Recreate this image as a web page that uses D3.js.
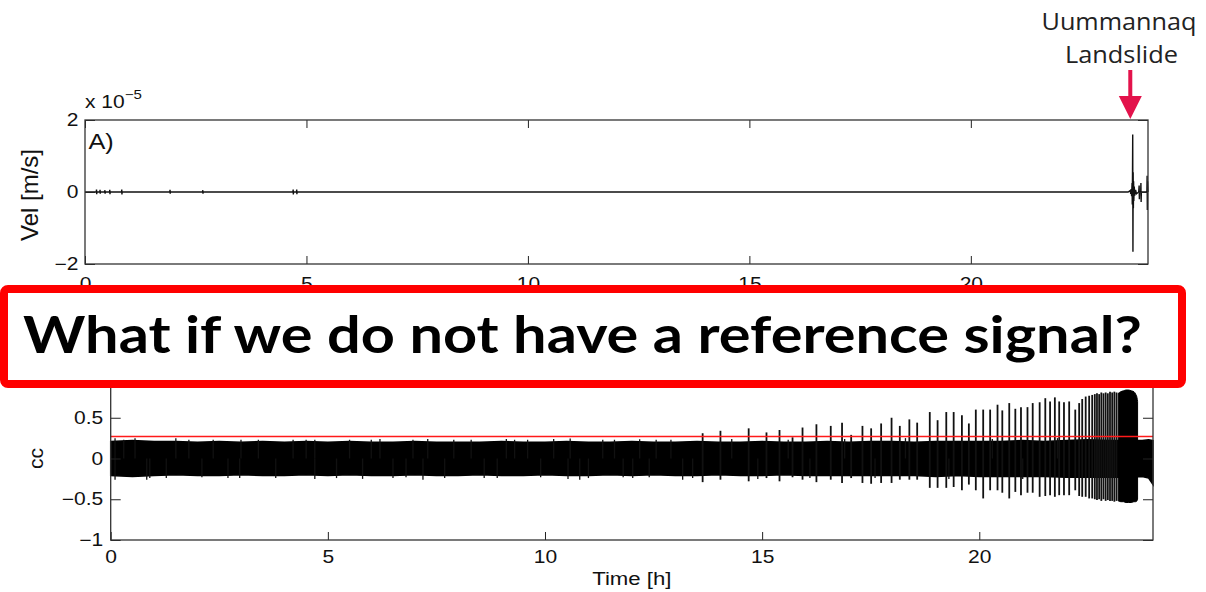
<!DOCTYPE html>
<html>
<head>
<meta charset="utf-8">
<script src="https://cdn.jsdelivr.net/npm/d3@7"></script>
<style>
  body { margin: 0; background: #fff; }
  svg { display: block; }
</style>
</head>
<body>
<svg id="chart" width="1206" height="592"></svg>
<script>
// ---------- Panel A: velocity seismogram (units of 1e-5 m/s) ----------
const velTime = [
  0,
  0.255, 0.26, 0.264, 0.268,
  0.335, 0.34, 0.344, 0.348,
  0.445, 0.45, 0.454, 0.458,
  0.555, 0.56, 0.564, 0.568,
  0.825, 0.83, 0.834, 0.838,
  1.915, 1.92, 1.924, 1.928,
  2.655, 2.66, 2.664, 2.668,
  4.695, 4.70, 4.704, 4.708,
  4.775, 4.78, 4.784, 4.788,
  23.55, 23.60, 23.61, 23.62, 23.63, 23.64, 23.645, 23.65, 23.655, 23.66,
  23.665, 23.67, 23.675, 23.68, 23.69, 23.70, 23.72, 23.74,
  23.79, 23.80, 23.805, 23.81,
  23.835, 23.84, 23.845, 23.85,
  23.90, 23.975, 23.98, 23.985, 23.99, 24
];
const velValue = [
  0,
  0, 0.07, -0.06, 0,
  0, 0.06, -0.05, 0,
  0, 0.05, -0.05, 0,
  0, 0.06, -0.06, 0,
  0, 0.07, -0.07, 0,
  0, 0.06, -0.05, 0,
  0, 0.05, -0.05, 0,
  0, 0.07, -0.07, 0,
  0, 0.07, -0.06, 0,
  0, 0.04, -0.05, 0.08, -0.12, 0.25, -0.35, 0.5, 1.6, -1.66,
  0.55, -0.45, 0.3, -0.25, 0.15, -0.1, 0.06, -0.05,
  0, 0.18, -0.2, 0,
  0, 0.25, -0.28, 0,
  0, 0, 0.45, -0.5, 0.3, 0
];
const timeTicks = [0, 5, 10, 15, 20];
const velTicks = [-2, 0, 2];
const velTickLabels = ["\u22122", "0", "2"];

// ---------- Panel B: cross-correlation coefficient ----------
// background noise envelope
const bandTime = [
  0, 0.5, 1, 1.5, 2, 2.5, 3, 3.5, 4, 4.5, 5, 5.5, 6, 6.5, 7, 7.5, 8, 8.5, 9, 9.5,
  10, 10.5, 11, 11.5, 12, 12.5, 13, 13.5, 14, 14.5, 15, 15.5, 16, 16.5, 17, 17.5,
  18, 18.5, 19, 19.5, 20, 20.5, 21, 21.5, 22, 22.5, 23, 23.5, 23.75, 23.9, 24
];
const bandUpper = [
  0.21, 0.22, 0.21, 0.21, 0.20, 0.21, 0.20, 0.21, 0.20, 0.21, 0.20, 0.21, 0.20, 0.20, 0.21, 0.20, 0.20, 0.20, 0.21, 0.20,
  0.20, 0.21, 0.20, 0.20, 0.21, 0.20, 0.20, 0.21, 0.20, 0.20, 0.21, 0.20, 0.20, 0.21, 0.20, 0.21,
  0.21, 0.20, 0.21, 0.21, 0.21, 0.21, 0.22, 0.21, 0.22, 0.23, 0.22, 0.22, 0.22, 0.23, 0.22
];
const bandLower = [
  -0.21, -0.22, -0.21, -0.20, -0.21, -0.21, -0.20, -0.21, -0.21, -0.20, -0.21, -0.20, -0.21, -0.21, -0.20, -0.21, -0.21, -0.20, -0.21, -0.21,
  -0.20, -0.21, -0.21, -0.20, -0.21, -0.20, -0.21, -0.21, -0.20, -0.21, -0.21, -0.20, -0.21, -0.21, -0.21, -0.21,
  -0.21, -0.21, -0.22, -0.21, -0.22, -0.22, -0.22, -0.22, -0.23, -0.23, -0.23, -0.23, -0.22, -0.24, -0.32
];
// small excursions poking out of the noise band
const bumpTime = [
  0.10, 0.10, 0.56, 0.83, 1.28, 1.50, 2.36, 2.97, 3.00, 4.20,
  4.70, 4.70, 5.50, 5.80, 6.20, 6.50, 6.96, 7.19, 7.30, 7.69,
  9.11, 10.53, 10.58, 10.80, 11.33, 12.02, 12.18, 12.56, 13.17,
  8.30, 8.90, 9.60, 11.80,
  0.30, 0.90, 1.80, 2.10, 2.70, 3.40, 3.80, 4.50, 5.20, 6.00,
  6.80, 7.90, 8.60, 9.30, 9.90, 10.20, 11.00, 11.60, 12.40, 12.90,
  13.40, 14.30, 14.90, 15.60, 16.10, 16.90, 17.60, 18.30, 19.30, 20.30,
  21.00, 21.80
];
const bumpValue = [
  0.25, -0.26, 0.25, -0.26, -0.24, 0.25, 0.23, -0.24, 0.23, 0.23,
  0.23, -0.25, 0.23, -0.25, 0.24, -0.24, 0.23, -0.26, 0.24, -0.24,
  0.24, -0.25, 0.245, -0.26, 0.23, -0.24, 0.235, 0.23, -0.26,
  0.23, -0.24, 0.23, -0.23,
  0.23, -0.24, 0.23, -0.23, -0.24, 0.23, -0.24, 0.23, -0.24, 0.23,
  -0.23, 0.23, -0.24, 0.23, -0.23, 0.24, -0.24, 0.23, -0.23, 0.23,
  -0.24, 0.24, -0.25, 0.23, -0.24, 0.24, -0.24, 0.25, -0.25, 0.24,
  -0.25, 0.25
];
// precursory repeating events
const spikeTime = [
  13.63, 14.04, 14.69, 15.10, 15.40, 15.70, 15.93, 16.25, 16.58, 16.84,
  17.05, 17.31, 17.51, 17.74, 17.98, 18.17, 18.39, 18.57, 18.86, 19.04,
  19.24, 19.41, 19.60, 19.76, 19.92, 20.09, 20.25, 20.42, 20.53, 20.69,
  20.83, 20.96, 21.11, 21.23, 21.39, 21.52, 21.63, 21.74, 21.84, 21.95,
  22.07, 22.21, 22.30, 22.37, 22.45, 22.53, 22.60,
  22.66, 22.71, 22.76, 22.81, 22.86, 22.91, 22.96, 23.01, 23.06, 23.11, 23.16
];
const spikePeak = [
  0.31, 0.34, 0.37, 0.32, 0.35, 0.26, 0.38, 0.42, 0.40, 0.44,
  0.29, 0.40, 0.37, 0.43, 0.50, 0.40, 0.48, 0.44, 0.57, 0.47,
  0.57, 0.57, 0.53, 0.43, 0.60, 0.60, 0.60, 0.66, 0.59, 0.68,
  0.61, 0.63, 0.63, 0.68, 0.69, 0.74, 0.70, 0.75, 0.70, 0.69,
  0.70, 0.60, 0.68, 0.73, 0.76, 0.77, 0.78,
  0.79, 0.80, 0.79, 0.81, 0.80, 0.81, 0.80, 0.82, 0.81, 0.82, 0.81
];
const spikeTrough = [
  -0.29, -0.26, -0.28, -0.24, -0.28, -0.23, -0.26, -0.29, -0.26, -0.30,
  -0.24, -0.30, -0.31, -0.30, -0.30, -0.26, -0.26, -0.26, -0.36, -0.36,
  -0.36, -0.35, -0.39, -0.32, -0.39, -0.49, -0.39, -0.39, -0.42, -0.49,
  -0.41, -0.45, -0.42, -0.42, -0.47, -0.46, -0.45, -0.47, -0.45, -0.45,
  -0.45, -0.39, -0.46, -0.47, -0.47, -0.49, -0.49,
  -0.50, -0.51, -0.50, -0.52, -0.50, -0.52, -0.51, -0.52, -0.52, -0.53, -0.52
];
// continuous swarm just before the landslide (envelope)
const swarmTime = [23.20, 23.26, 23.32, 23.38, 23.44, 23.50, 23.56, 23.60, 23.63, 23.645];
const swarmTop = [0.80, 0.82, 0.83, 0.84, 0.84, 0.83, 0.82, 0.79, 0.75, 0.70];
const swarmBottom = [-0.52, -0.53, -0.53, -0.54, -0.54, -0.54, -0.53, -0.53, -0.52, -0.50];
const ccThreshold = 0.27;
const ccTicks = [-1, -0.5, 0, 0.5, 1];
const ccTickLabels = ["\u22121", "\u22120.5", "0", "0.5", "1"];

// ---------- drawing ----------
const svg = d3.select("#chart");
const AXIS_FONT = "'Liberation Sans', Arial, Helvetica, sans-serif";
const STRETCH = "scale(1.2,1)";

function frame(g, x, y, xTicks, yTicks, yLabels, xPad, yPad) {
  const [x0, x1] = x.range();
  const [y0, y1] = y.range();
  const fmtX = d => String(d);
  const fmtY = d => yLabels[yTicks.indexOf(d)];
  const axisStyle = sel => sel.attr("font-family", AXIS_FONT).attr("font-size", 17.5)
    .attr("color", "#222").call(s => s.select(".domain").remove());

  g.append("g").attr("transform", `translate(0,${y0})`)
    .call(d3.axisBottom(x).tickValues(xTicks).tickFormat(fmtX).tickSizeInner(-8).tickSizeOuter(0).tickPadding(xPad))
    .call(axisStyle)
    .call(s => s.selectAll("text").attr("transform", STRETCH).attr("fill", "#111"));
  g.append("g").attr("transform", `translate(0,${y1})`)
    .call(d3.axisTop(x).tickValues(xTicks).tickFormat("").tickSizeInner(-8).tickSizeOuter(0))
    .call(axisStyle);
  g.append("g").attr("transform", `translate(${x0},0)`)
    .call(d3.axisLeft(y).tickValues(yTicks).tickFormat(fmtY).tickSizeInner(-10).tickSizeOuter(0).tickPadding(yPad))
    .call(axisStyle)
    .call(s => s.selectAll("text").attr("transform", STRETCH).attr("fill", "#111"));
  g.append("g").attr("transform", `translate(${x1},0)`)
    .call(d3.axisRight(y).tickValues(yTicks).tickFormat("").tickSizeInner(-10).tickSizeOuter(0))
    .call(axisStyle);
  g.append("rect")
    .attr("x", x0).attr("y", y1).attr("width", x1 - x0).attr("height", y0 - y1)
    .attr("fill", "none").attr("stroke", "#333").attr("stroke-width", 1.3);
}

// Panel A
const xTop = d3.scaleLinear().domain([0, 24]).range([85, 1148]);
const yTop = d3.scaleLinear().domain([-2, 2]).range([264, 120]);
const gTop = svg.append("g");

gTop.append("path")
  .datum(velTime.map((t, i) => [t, velValue[i]]))
  .attr("d", d3.line().x(d => xTop(d[0])).y(d => yTop(d[1])))
  .attr("fill", "none").attr("stroke", "#111").attr("stroke-width", 1.4);

frame(gTop, xTop, yTop, timeTicks, velTicks, velTickLabels, 14, 5.5);

const mult = gTop.append("text")
  .attr("transform", "translate(85,108) " + STRETCH)
  .attr("font-family", AXIS_FONT).attr("font-size", 17.5).attr("fill", "#111");
mult.append("tspan").text("x 10");
mult.append("tspan").attr("dy", -9).attr("font-size", 12.5).text("\u22125");

gTop.append("text")
  .attr("transform", "translate(88.5,149) scale(1.15,1)")
  .attr("font-family", AXIS_FONT).attr("font-size", 22).attr("fill", "#111")
  .text("A)");

gTop.append("text")
  .attr("transform", `translate(38,${(120 + 264) / 2 + 3}) rotate(-90)`)
  .attr("text-anchor", "middle")
  .attr("font-family", AXIS_FONT).attr("font-size", 24).attr("fill", "#111")
  .text("Vel [m/s]");

// Panel B
const xBot = d3.scaleLinear().domain([0, 24]).range([110.7, 1153]);
const yBot = d3.scaleLinear().domain([-1, 1]).range([540, 377]);
const gBot = svg.append("g");

gBot.append("path")
  .datum(bandTime.map((t, i) => [t, bandUpper[i], bandLower[i]]))
  .attr("d", d3.area().x(d => xBot(d[0])).y0(d => yBot(d[2])).y1(d => yBot(d[1])))
  .attr("fill", "#000").attr("stroke", "#000").attr("stroke-width", 1.5);

gBot.append("g").selectAll("line")
  .data(bumpTime.map((t, i) => [t, bumpValue[i]]))
  .join("line")
  .attr("x1", d => xBot(d[0])).attr("x2", d => xBot(d[0]))
  .attr("y1", yBot(0)).attr("y2", d => yBot(d[1]))
  .attr("stroke", "#111").attr("stroke-width", 1.3);

gBot.append("g").selectAll("line")
  .data(spikeTime.map((t, i) => [t, spikePeak[i], spikeTrough[i]]))
  .join("line")
  .attr("x1", d => xBot(d[0])).attr("x2", d => xBot(d[0]))
  .attr("y1", d => yBot(d[2])).attr("y2", d => yBot(d[1]))
  .attr("stroke", "#111").attr("stroke-width", 1.8);

gBot.append("path")
  .datum(swarmTime.map((t, i) => [t, swarmTop[i], swarmBottom[i]]))
  .attr("d", d3.area().x(d => xBot(d[0])).y0(d => yBot(d[2])).y1(d => yBot(d[1])).curve(d3.curveMonotoneX))
  .attr("fill", "#000").attr("stroke", "#000").attr("stroke-width", 1);

gBot.append("line")
  .attr("x1", xBot(0)).attr("x2", xBot(24))
  .attr("y1", yBot(ccThreshold)).attr("y2", yBot(ccThreshold))
  .attr("stroke", "#ff1a1a").attr("stroke-width", 1.3);

frame(gBot, xBot, yBot, timeTicks, ccTicks, ccTickLabels, 11, 6.2);

gBot.append("text")
  .attr("transform", `translate(43,${yBot(0)}) rotate(-90)`)
  .attr("text-anchor", "middle")
  .attr("font-family", AXIS_FONT).attr("font-size", 21).attr("fill", "#111")
  .text("cc");

gBot.append("text")
  .attr("transform", `translate(${(110.7 + 1153) / 2},585) ` + STRETCH)
  .attr("text-anchor", "middle")
  .attr("font-family", AXIS_FONT).attr("font-size", 18.5).attr("fill", "#111")
  .text("Time [h]");

// Question banner
svg.append("rect")
  .attr("x", 4).attr("y", 289).attr("width", 1178).attr("height", 95).attr("rx", 4)
  .attr("fill", "#fff").attr("stroke", "#ff0000").attr("stroke-width", 8);
svg.append("text")
  .attr("x", 23).attr("y", 353)
  .attr("font-family", "Lato, 'Open Sans', sans-serif").attr("font-weight", 700).attr("font-size", 51)
  .attr("textLength", 1119).attr("lengthAdjust", "spacingAndGlyphs")
  .attr("fill", "#000")
  .text("What if we do not have a reference signal?");

// Landslide annotation
const ann = svg.append("g").attr("font-family", "'Open Sans', sans-serif").attr("font-size", 23).attr("fill", "#222");
ann.append("text").attr("x", 1119).attr("y", 30).attr("text-anchor", "middle")
  .attr("textLength", 155).attr("lengthAdjust", "spacingAndGlyphs").text("Uummannaq");
ann.append("text").attr("x", 1121.5).attr("y", 63).attr("text-anchor", "middle")
  .attr("textLength", 113).attr("lengthAdjust", "spacingAndGlyphs").text("Landslide");

const arrowX = xTop(23.6);
svg.append("line")
  .attr("x1", arrowX).attr("x2", arrowX).attr("y1", 70).attr("y2", 100)
  .attr("stroke", "#e3124b").attr("stroke-width", 4);
svg.append("path")
  .attr("d", `M${arrowX - 11.5},96 L${arrowX + 11.5},96 L${arrowX},119 Z`)
  .attr("fill", "#e3124b");
</script>
</body>
</html>
